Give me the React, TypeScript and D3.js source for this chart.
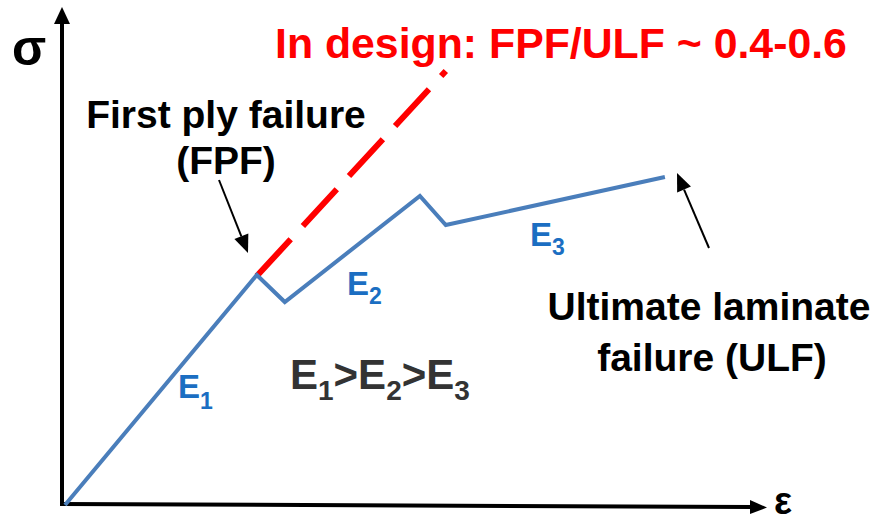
import React from "react";
import * as d3 from "d3";

const strain = [0, 2.74, 3.14, 5.07, 5.44, 8.57];
const stress = [0, 4.6, 4.06, 6.18, 5.6, 6.56];
const designStrain = [2.74, 5.44];
const designStress = [4.58, 8.68];

const W = 875;
const H = 522;
const FONT = "'Liberation Sans', Arial, Helvetica, sans-serif";

function arrow(x1: number, y1: number, x2: number, y2: number, len = 18, wid = 15) {
  const a = Math.atan2(y2 - y1, x2 - x1);
  const bx = x2 - len * Math.cos(a);
  const by = y2 - len * Math.sin(a);
  const px = -Math.sin(a) * (wid / 2);
  const py = Math.cos(a) * (wid / 2);
  return {
    shaft: { x1, y1, x2: bx, y2: by },
    head: `M${x2},${y2} L${bx + px},${by + py} L${bx - px},${by - py} Z`,
  };
}

export default function App() {
  const x = d3.scaleLinear().domain([0, 10]).range([65, 765]);
  const y = d3.scaleLinear().domain([0, 10]).range([505, 5]);

  const pts: [number, number][] = strain.map((s, i) => [x(s), y(stress[i])]);
  const red: [number, number][] = designStrain.map((s, i) => [x(s), y(designStress[i])]);
  const line = d3.line<[number, number]>().x((d) => d[0]).y((d) => d[1]);

  const axX = x(0) - 3;
  const axY = y(0);

  const a1 = arrow(219, 180, 248, 253);
  const a2 = arrow(709, 248, 677, 173);

  return (
    <svg
      width={W}
      height={H}
      viewBox={`0 0 ${W} ${H}`}
      style={{ position: "absolute", left: 0, top: 0, display: "block", background: "#fff" }}
      fontFamily={FONT}
      fontWeight="bold"
    >
      {/* axes */}
      <line x1={axX} y1={axY} x2={axX} y2={24} stroke="#000" strokeWidth={4} />
      <path d={`M${axX - 8},24 L${axX},7 L${axX + 8},24 Z`} fill="#000" />
      <line x1={axX - 2} y1={axY - 1} x2={751} y2={axY + 2} stroke="#000" strokeWidth={4} />
      <path d={`M750,${axY - 5} L767,${axY + 2.5} L750,${axY + 9} Z`} fill="#000" />

      <text x={12} y={65} fontSize={50} fill="#000">σ</text>
      <text x={774} y={514} fontSize={38} fill="#000">ε</text>

      {/* red dashed design line */}
      <path d={line(red) || ""} fill="none" stroke="#ff0000" strokeWidth={6} strokeDasharray="50 18" />

      {/* blue curve */}
      <path d={line(pts) || ""} fill="none" stroke="#4a7ebb" strokeWidth={4} strokeLinejoin="miter" />

      {/* arrows */}
      <line {...a1.shaft} stroke="#000" strokeWidth={2} />
      <path d={a1.head} fill="#000" />
      <line {...a2.shaft} stroke="#000" strokeWidth={2} />
      <path d={a2.head} fill="#000" />

      {/* texts */}
      <text x={275} y={58} fontSize={42.8} fill="#ff0000">In design: FPF/ULF ~ 0.4-0.6</text>
      <text x={226} y={128} fontSize={39} fill="#000" textAnchor="middle">First ply failure</text>
      <text x={226} y={174} fontSize={39} fill="#000" textAnchor="middle">(FPF)</text>
      <text x={709} y={320} fontSize={39} fill="#000" textAnchor="middle">Ultimate laminate</text>
      <text x={712} y={371} fontSize={39} fill="#000" textAnchor="middle">failure (ULF)</text>

      <text x={178} y={398} fontSize={33} fill="#1b6ec2">
        E<tspan fontSize={23} dy={11}>1</tspan>
      </text>
      <text x={347} y={295} fontSize={33} fill="#1b6ec2">
        E<tspan fontSize={23} dy={9}>2</tspan>
      </text>
      <text x={530} y={246} fontSize={33} fill="#1b6ec2">
        E<tspan fontSize={23} dy={9}>3</tspan>
      </text>

      <text x={290} y={389} fontSize={42} fill="#333">
        E<tspan fontSize={28} dy={11}>1</tspan>
        <tspan dy={-11}>&gt;E</tspan>
        <tspan fontSize={28} dy={11}>2</tspan>
        <tspan dy={-11}>&gt;E</tspan>
        <tspan fontSize={28} dy={11}>3</tspan>
      </text>
    </svg>
  );
}
